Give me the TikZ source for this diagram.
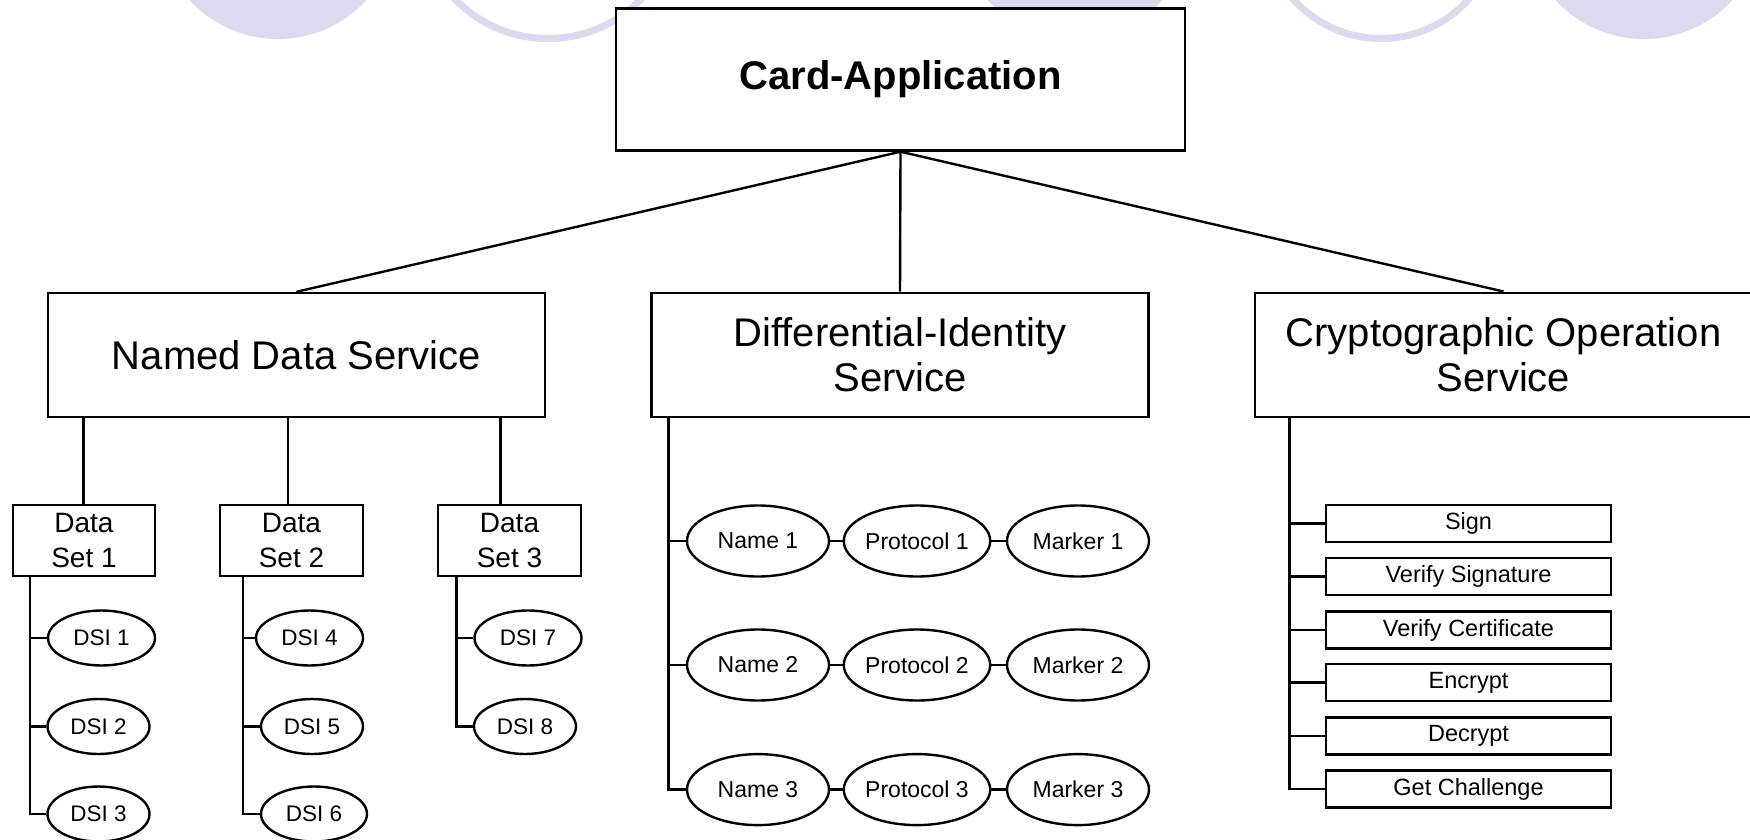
\documentclass[tikz,border=0pt]{standalone}
\usepackage{fontspec}
\setmainfont{Liberation Sans}
\usetikzlibrary{shapes.geometric}
\definecolor{bglav}{RGB}{220,218,238}

\begin{document}
\begin{tikzpicture}[x=1pt,y=-1pt,
  rbox/.style={draw, fill=white, inner sep=0pt, align=center, line width=2.4pt},
  oval/.style={ellipse, draw, fill=white, inner sep=0pt, line width=2.4pt},
  wire/.style={line width=2.4pt},
  hugefnt/.style={font=\fontsize{40}{44.6}\selectfont},
  setfnt/.style={font=\fontsize{28}{35.6}\selectfont},
  dsifnt/.style={font=\fontsize{22.5}{26}\selectfont},
  midfnt/.style={font=\fontsize{23.5}{28}\selectfont},
  ovalfnt/.style={font=\fontsize{23}{28}\selectfont},
  topbox/.style={rbox, minimum width=497pt, minimum height=124pt, hugefnt},
  setbox/.style={rbox, minimum width=143pt, minimum height=71pt, setfnt},
  dsi/.style={oval, minimum height=55pt, dsifnt},
  idoval/.style={oval, minimum width=142pt, minimum height=71pt, ovalfnt},
  opbox/.style={rbox, minimum width=285pt, minimum height=37pt, midfnt}]

\useasboundingbox (0,0) rectangle (1750,840);
\fill[white] (0,0) rectangle (1750,840);

% decorative lavender circles along the top edge
\fill[bglav] (278,-81) circle[radius=120];
\draw[bglav, line width=7pt] (548,-91) circle[radius=129.5];
\fill[bglav] (1075,-82) circle[radius=120];
\draw[bglav, line width=7pt] (1381,-79) circle[radius=117.5];
\fill[bglav] (1644,-81) circle[radius=120];

% root
\node[rbox, minimum width=569pt, minimum height=142pt,
      font=\fontsize{40}{44.6}\selectfont\bfseries] (card) at (900.5,79.5) {Card-Application};

% services
\node[topbox] (nds) at (296.5,355) {Named Data Service};
\node[topbox] (dis) at (900,354.7) {Differential-Identity\\Service};
\node[topbox] (cos) at (1503.5,354.7) {Cryptographic Operation\\Service};

\draw[wire] (card.south) -- (nds.north);
\draw[wire] (card.south) -- (dis.north);
\draw[wire] (card.south) -- (cos.north);

% data sets
\node[setbox, minimum width=142pt] (ds1) at (84,540.5) {Data\\Set 1};
\node[setbox] (ds2) at (291.5,540.5) {Data\\Set 2};
\node[setbox] (ds3) at (509.5,540.5) {Data\\Set 3};

\draw[wire] ([xshift=-0.6pt]ds1.north) -- ([xshift=-0.6pt]ds1.north |- nds.south);
\draw[wire] ([xshift=-3.5pt]ds2.north) -- ([xshift=-3.5pt]ds2.north |- nds.south);
\draw[wire] ([xshift=-9pt]ds3.north) -- ([xshift=-9pt]ds3.north |- nds.south);

% data set items
\node[dsi, minimum width=107pt] (dsi1) at (101.5,638) {DSI 1};
\node[dsi, minimum width=102pt] (dsi2) at (98.5,726.5) {DSI 2};
\node[dsi, minimum width=102pt] (dsi3) at (98.5,814) {DSI 3};
\node[dsi, minimum width=107pt] (dsi4) at (309.5,638) {DSI 4};
\node[dsi, minimum width=102pt] (dsi5) at (312,726.5) {DSI 5};
\node[dsi, minimum width=106pt] (dsi6) at (314,814) {DSI 6};
\node[dsi, minimum width=107pt] (dsi7) at (528,638) {DSI 7};
\node[dsi, minimum width=102pt] (dsi8) at (525,726.5) {DSI 8};

\coordinate (sp1) at ([xshift=-54pt]ds1.south);
\coordinate (sp2) at ([xshift=-48.5pt]ds2.south);
\coordinate (sp3) at ([xshift=-53pt]ds3.south);
\draw[wire] (sp1) |- (dsi3.west);
\draw[wire] (dsi1.west) -- (dsi1.west -| sp1);
\draw[wire] (dsi2.west) -- (dsi2.west -| sp1);
\draw[wire] (sp2) |- (dsi6.west);
\draw[wire] (dsi4.west) -- (dsi4.west -| sp2);
\draw[wire] (dsi5.west) -- (dsi5.west -| sp2);
\draw[wire] (sp3) |- (dsi8.west);
\draw[wire] (dsi7.west) -- (dsi7.west -| sp3);

% identity chains
\foreach \r/\y in {1/541, 2/665, 3/789.6} {
  \node[idoval] (nm\r) at (758,\y) {Name \r};
  \node[idoval, minimum width=141pt] (pr\r) at (917,\y) {Protocol \r};
  \node[idoval] (mk\r) at (1078,\y) {Marker \r};
  \draw[wire] (nm\r.east) -- (pr\r.west);
  \draw[wire] (pr\r.east) -- (mk\r.west);
}
\coordinate (spd) at ([xshift=18pt]dis.south west);
\draw[wire] (spd) |- (nm3.west);
\draw[wire] (nm1.west) -- (nm1.west -| spd);
\draw[wire] (nm2.west) -- (nm2.west -| spd);

% cryptographic operations
\node[opbox] (op1) at (1468.5,523.5) {Sign};
\node[opbox] (op2) at (1468.5,576.5) {Verify Signature};
\node[opbox] (op3) at (1468.5,630) {Verify Certificate};
\node[opbox] (op4) at (1468.5,682.6) {Encrypt};
\node[opbox] (op5) at (1468.5,736) {Decrypt};
\node[opbox] (op6) at (1468.5,789) {Get Challenge};

\coordinate (spc) at ([xshift=35.7pt]cos.south west);
\draw[wire] (spc) |- (op6.west);
\foreach \k in {1,...,5} {
  \draw[wire] (op\k.west) -- (op\k.west -| spc);
}
\end{tikzpicture}
\end{document}
